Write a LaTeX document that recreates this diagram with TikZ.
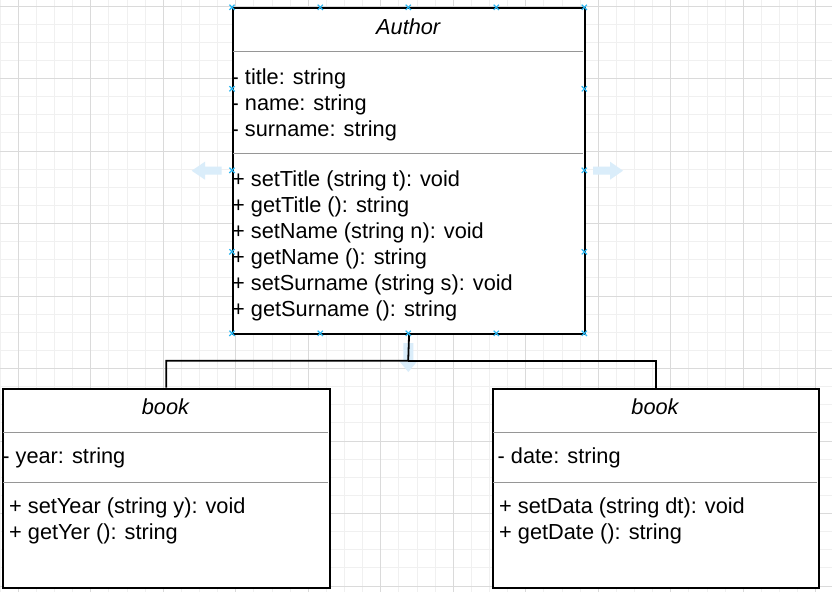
\documentclass[tikz,border=0pt]{standalone}
\usepackage{fontspec}
\setmainfont{Liberation Sans}
\definecolor{minorgrid}{RGB}{240,240,240}
\definecolor{majorgrid}{RGB}{218,218,218}
\definecolor{sepgray}{RGB}{150,150,150}
\definecolor{handle}{RGB}{41,182,242}
\definecolor{hoverblue}{RGB}{218,237,250}
\tikzset{
  umlbox/.style={draw=black, fill=white, line width=1.8pt, inner sep=0pt, anchor=north west},
  sepline/.style={draw=sepgray, line width=1.5pt},
  conn/.style={draw=black, line width=1.8pt},
  txt/.style={anchor=base west, inner sep=0pt, font=\fontsize{21.75}{26}\selectfont},
  ttl/.style={anchor=base, inner sep=0pt, font=\fontsize{21.75}{26}\selectfont\itshape},
  handlemark/.style={draw=handle, line width=1.2pt},
  hover/.style={fill=hoverblue, draw=none},
  minorline/.style={draw=minorgrid, line width=1pt},
  majorline/.style={draw=majorgrid, line width=1pt},
}
\newcommand\hmarkx[2]{\draw[handlemark] (#1-2.6,#2-2.6) -- (#1+2.6,#2+2.6) (#1-2.6,#2+2.6) -- (#1+2.6,#2-2.6);}
\begin{document}
\begin{tikzpicture}[x=1pt,y=-1pt]
\useasboundingbox (0,0) rectangle (832,592);
\begin{scope}
\clip (0,0) rectangle (832,592);
\fill[white] (0,0) rectangle (832,592);
% grid
\foreach \k in {0,...,46} \draw[minorline] ({0.175+18.125*\k},0) -- ++(0,592);
\foreach \k in {-1,...,32} \draw[minorline] (0,{6+18.125*\k}) -- ++(832,0);
\foreach \k in {0,...,11} \draw[majorline] ({18.3+72.5*\k},0) -- ++(0,592);
\foreach \k in {0,...,8} \draw[majorline] (0,{6+72.5*\k}) -- ++(832,0);
\end{scope}

% hover arrows
\fill[hover] (191.7,170.7) -- (205,161.7) -- (205,166.7) -- (221.7,166.7) -- (221.7,174.7) -- (205,174.7) -- (205,179.7) -- cycle;
\fill[hover] (623,170.7) -- (610,161.7) -- (610,166.7) -- (593,166.7) -- (593,174.7) -- (610,174.7) -- (610,179.7) -- cycle;
\fill[hover] (408.3,372) -- (398.3,360) -- (403.3,360) -- (403.3,343) -- (413.3,343) -- (413.3,360) -- (418.3,360) -- cycle;

% boxes
\node[umlbox, minimum width=352.3pt, minimum height=326pt] (author) at (232,7.3) {};
\node[umlbox, minimum width=327.3pt, minimum height=199.6pt] (book1) at (1.7,387.7) {};
\node[umlbox, minimum width=326.6pt, minimum height=199.6pt] (book2) at (491.7,387.7) {};

% separators
\draw[sepline] (232.9,51.7) -- (583.4,51.7);
\draw[sepline] (232.9,153.3) -- (583.4,153.3);
\draw[sepline] (2.6,432.7) -- (328.1,432.7);
\draw[sepline] (2.6,482.3) -- (328.1,482.3);
\draw[sepline] (492.6,432.7) -- (817.4,432.7);
\draw[sepline] (492.6,482.3) -- (817.4,482.3);

% Author texts
\node[ttl] (authorname) at (408.2,34) {Author};
\node[txt] (aa1) at (231.5,84.5) {- title: string};
\node[txt] (aa2) at (231.5,110.5) {- name: string};
\node[txt] (aa3) at (231.5,136.5) {- surname: string};
\node[txt] (am1) at (232,186) {+ setTitle (string t): void};
\node[txt] (am2) at (232,212) {+ getTitle (): string};
\node[txt] (am3) at (232,238) {+ setName (string n): void};
\node[txt] (am4) at (232,264) {+ getName (): string};
\node[txt] (am5) at (232,290) {+ setSurname (string s): void};
\node[txt] (am6) at (232,316) {+ getSurname (): string};

% book 1 texts
\node[ttl] (b1name) at (165.4,414.3) {book};
\node[txt] (b1a1) at (2.2,463.3) {- year: string};
\node[txt] (b1m1) at (9,513.3) {+ setYear (string y): void};
\node[txt] (b1m2) at (9,539.3) {+ getYer (): string};

% book 2 texts
\node[ttl] (b2name) at (655,414.3) {book};
\node[txt] (b2a1) at (497.5,463.3) {- date: string};
\node[txt] (b2m1) at (499,513.3) {+ setData (string dt): void};
\node[txt] (b2m2) at (499,539.3) {+ getDate (): string};

% connectors
\coordinate (junction) at (408.2,360.7);
\draw[conn] (author.south) -- (junction) -| (book1.north);
\draw[conn] (junction) -| (book2.north);

% selection handles
\foreach \x in {232,320.3,408.3,496.3,584.3} {\hmarkx{\x}{7.3}\hmarkx{\x}{333.3}}
\foreach \y in {88.8,170.3,251.8} {\hmarkx{232}{\y}\hmarkx{584.3}{\y}}
\end{tikzpicture}
\end{document}
